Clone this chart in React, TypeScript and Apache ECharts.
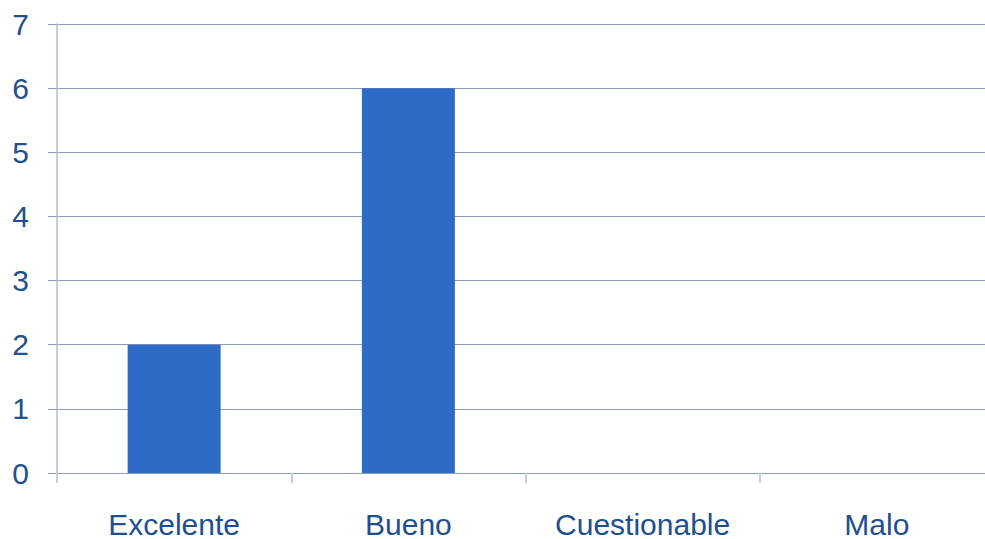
import React, { useEffect, useRef } from "react";
import * as echarts from "echarts";

const categories = ["Excelente", "Bueno", "Cuestionable", "Malo"];
const values = [2, 6, 0, 0];
const yTicks = [0, 1, 2, 3, 4, 5, 6, 7];

export default function App() {
  const ref = useRef<HTMLDivElement>(null);
  useEffect(() => {
    if (!ref.current) return;
    const chart = echarts.init(ref.current, null, { renderer: "svg" });
    chart.setOption({
      animation: false,
      backgroundColor: "#ffffff",
      grid: { left: 57, top: 24, bottom: 66, right: 0, containLabel: false },
      xAxis: {
        type: "category",
        data: categories,
        boundaryGap: true,
        axisLine: { show: true, lineStyle: { color: "#8e9cb8", width: 1 } },
        axisTick: { show: true, alignWithLabel: false, length: 10, lineStyle: { color: "#c5cddd", width: 2 } },
        axisLabel: {
          color: "#1f4f8f",
          fontFamily: "Liberation Sans",
          fontSize: 30,
          margin: 36,
        },
        splitLine: { show: false },
      },
      yAxis: {
        type: "value",
        min: yTicks[0],
        max: yTicks[yTicks.length - 1],
        interval: 1,
        axisLine: { show: true, lineStyle: { color: "#c5cddd", width: 2 } },
        axisTick: { show: true, length: 9, lineStyle: { color: "#8e9cb8", width: 1 } },
        axisLabel: {
          color: "#1f4f8f",
          fontFamily: "Liberation Sans",
          fontSize: 30,
          margin: 28,
        },
        splitLine: { show: true, lineStyle: { color: "#8e9cb8", width: 1 } },
      },
      series: [
        {
          type: "bar",
          data: values,
          barWidth: 93,
          itemStyle: { color: "#2e6bc6", borderWidth: 0 },
        },
      ],
    });
    return () => chart.dispose();
  }, []);
  return (
    <div style={{ position: "fixed", left: 0, top: 0, width: 985, height: 539, overflow: "hidden" }}>
      <div ref={ref} style={{ width: 994, height: 539 }} />
    </div>
  );
}
